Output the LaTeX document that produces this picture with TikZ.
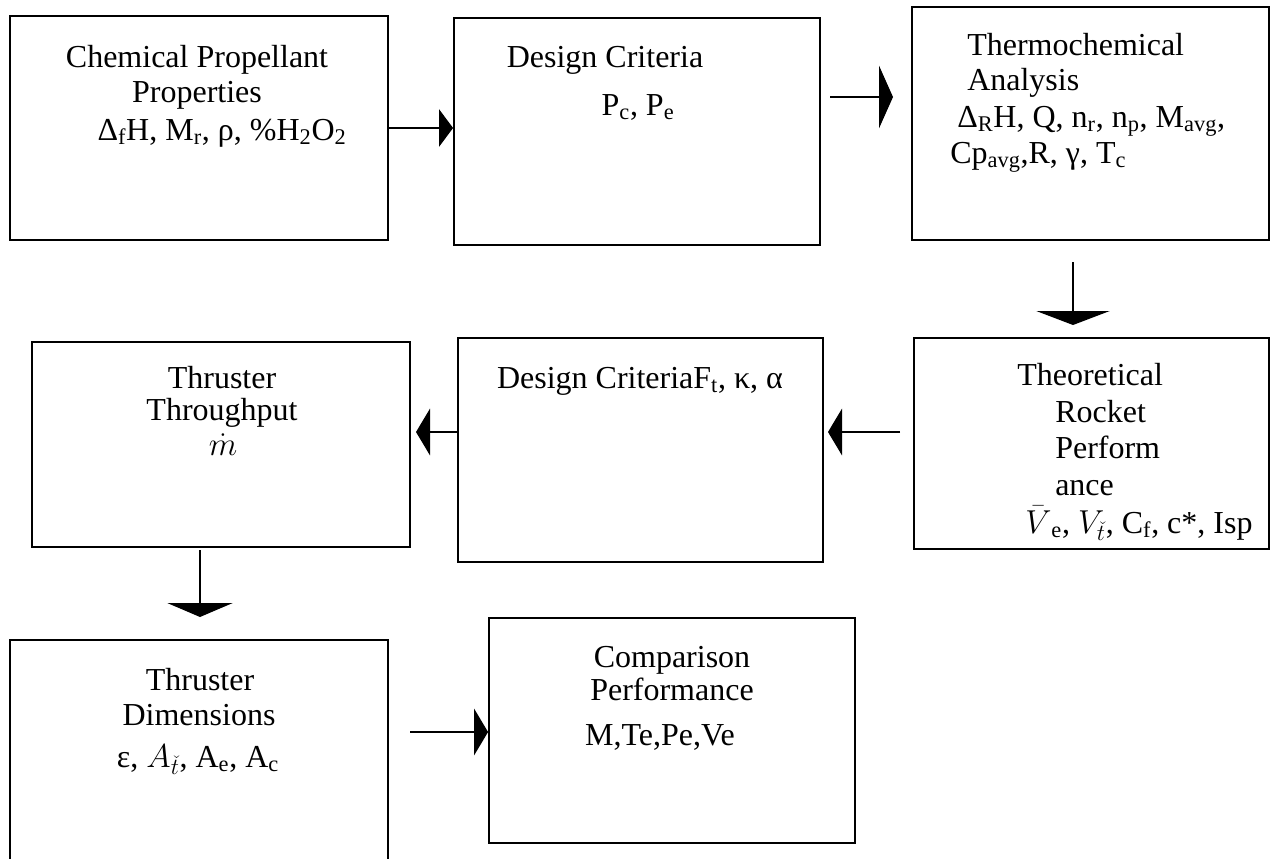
\documentclass[tikz,border=0pt]{standalone}
\usepackage{fontspec}
\setmainfont{Liberation Serif}
\usetikzlibrary{arrows.meta,fit}

\tikzset{
  box/.style={draw, line width=1.4pt, inner sep=0pt},
  lbl/.style={font=\fontsize{24}{27}\selectfont, inner sep=0pt, anchor=base},
  lbll/.style={lbl, anchor=base west},
  flow/.style={line width=1.1pt, -{Triangle[length=10.5pt, width=#1]}},
  flow/.default=35pt
}

\begin{document}
\begin{tikzpicture}[x=0.75pt, y=-0.75pt]
  \clip (0,0) rectangle (1271,858);
  \fill[white] (0,0) rectangle (1271,858);

  % Boxes
  \node[box, fit={(10,16) (388,240)}] (chem) {};
  \node[box, fit={(454,18) (820,245)}] (crit) {};
  \node[box, fit={(912,7) (1269,240)}] (thermo) {};
  \node[box, fit={(914,338) (1269,549)}] (theory) {};
  \node[box, fit={(458,338) (823,562)}] (critb) {};
  \node[box, fit={(32,342) (410,547)}] (thru) {};
  \node[box, fit={(10,640) (388,866)}] (dims) {};
  \node[box, fit={(489,618) (855,843)}] (comp) {};

  % Texts
  \node[lbl] (chem1) at (197,67) {Chemical Propellant};
  \node[lbl] (chem2) at (197,102) {Properties};
  \node[lbl] (chem3) at (222,140) {Δ\textsubscript{f}H, M\textsubscript{r}, ρ, \%H\textsubscript{2}O\textsubscript{2}};
  \node[lbl] (crit1) at (605,67) {Design Criteria};
  \node[lbl] (crit2) at (638,115) {P\textsubscript{c}, P\textsubscript{e}};
  \node[lbll] (thermo1) at (967,55) {Thermochemical};
  \node[lbll] (thermo2) at (967,90) {Analysis};
  \node[lbll] (thermo3) at (957,127) {Δ\textsubscript{R}H, Q, n\textsubscript{r}, n\textsubscript{p}, M\textsubscript{avg},};
  \node[lbll] (thermo4) at (950,163) {Cp\textsubscript{avg},R, γ, T\textsubscript{c}};
  \node[lbll] (theory1) at (1017,385) {Theoretical};
  \node[lbll] (theory2) at (1055,422) {Rocket};
  \node[lbll] (theory3) at (1055,458) {Perform};
  \node[lbll] (theory4) at (1055,495) {ance};
  \node[lbll] (theory5) at (1025,533) {$\bar{V}$\textsubscript{e}, $V_{\check{t}}$, C\textsubscript{f}, c*, Isp};
  \node[lbl] (critb1) at (640,388) {Design CriteriaF\textsubscript{t}, κ, α};
  \node[lbl] (thru1) at (222,388) {Thruster};
  \node[lbl] (thru2) at (222,420) {Throughput};
  \node[lbl] (thru3) at (223,455) {$\dot{m}$};
  \node[lbl] (dims1) at (200,690) {Thruster};
  \node[lbl] (dims2) at (199,725) {Dimensions};
  \node[lbl] (dims3) at (198,767) {ε, $A_{\check{t}}$, A\textsubscript{e}, A\textsubscript{c}};
  \node[lbl] (comp1) at (672,667) {Comparison};
  \node[lbl] (comp2) at (672,700) {Performance};
  \node[lbl] (comp3) at (660,745) {M,Te,Pe,Ve};

  % Free arrow ends
  \coordinate (p2a) at (830,97);
  \coordinate (p2b) at (893,97);
  \coordinate (p3a) at (1073,262);
  \coordinate (p3b) at (1073,325);
  \coordinate (p4a) at (900,432);
  \coordinate (p4b) at (828,432);
  \coordinate (p5b) at (416,432);
  \coordinate (p6a) at (200,550);
  \coordinate (p6b) at (200,617);
  \coordinate (p7a) at (410,732);

  % Arrows
  \draw[flow=28pt] (chem.east) -- (chem.east -| crit.west);
  \draw[flow=47pt] (p2a) -- (p2b);
  \draw[flow=55pt] (p3a) -- (p3b);
  \draw[flow] (p4a) -- (p4b);
  \draw[flow] (critb.west |- p5b) -- (p5b);
  \draw[flow=49pt] (p6a) -- (p6b);
  \draw[flow] (p7a) -- (p7a -| comp.west);
\end{tikzpicture}
\end{document}
